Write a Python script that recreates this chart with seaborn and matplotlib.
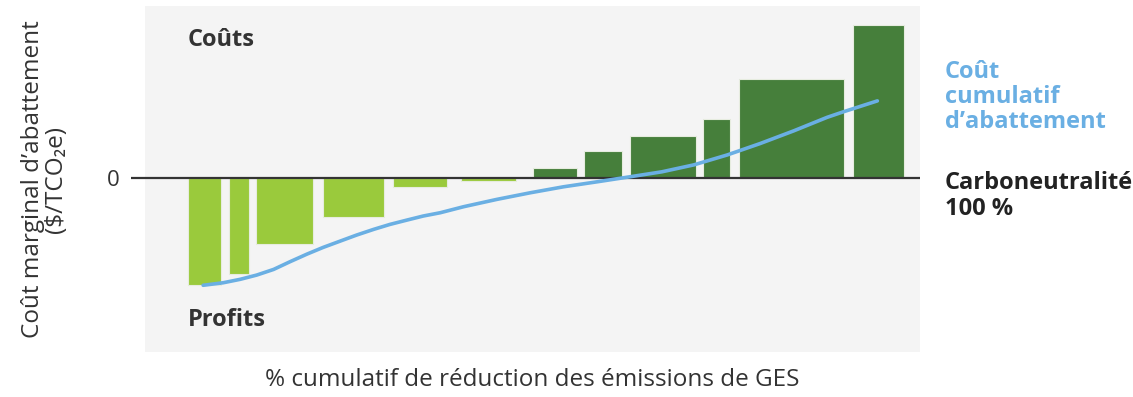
import numpy as np
import pandas as pd
import matplotlib
matplotlib.use("Agg")
import matplotlib.pyplot as plt
import seaborn as sns

# abatement measures: left edge on cumulative % axis, width (potential), marginal cost
bar_left = [5.5, 10.9, 14.3, 23.0, 32.0, 40.8, 50.0, 56.6, 62.6, 72.0, 76.6, 91.4]
bar_width = [4.3, 2.5, 7.4, 7.9, 7.0, 7.1, 5.7, 4.9, 8.5, 3.5, 13.6, 6.6]
bar_cost = [-71, -64, -44, -26, -6, -1.6, 7, 18.4, 28.4, 39.3, 66.4, 102.4]

# cumulative abatement cost curve
curve_x = [7.5, 10.1, 12.3, 14.4, 16.6, 18.7, 20.9, 23.0, 25.2, 27.3, 29.5, 31.6,
           33.8, 35.9, 38.1, 41.1, 45.4, 49.7, 54.0, 58.3, 62.6, 66.7, 70.8,
           75.1, 79.4, 83.7, 88.0, 90.1, 94.5]
curve_y = [-71.3, -69.6, -67.3, -64.5, -60.7, -55.6, -50.5, -46.0, -41.8, -37.8,
           -34.0, -30.7, -27.8, -25.1, -22.9, -18.9, -14.0, -9.6, -5.6, -2.3, 1.1,
           4.4, 9.0, 15.6, 23.3, 31.7, 40.7, 44.4, 51.7]

light_green = "#9aca3c"
dark_green = "#467f3b"
blue = "#6aafe3"
dark = "#333333"

sns.set_theme(style="white")
plt.rcParams["font.family"] = ["Open Sans", "DejaVu Sans"]

fig = plt.figure(figsize=(11.33, 3.97), dpi=100)
ax = fig.add_axes([0.128, 0.1126, 0.684, 0.8723])
ax.set_facecolor("#f4f4f4")

colors = [light_green if c < 0 else dark_green for c in bar_cost]
ax.bar(bar_left, bar_cost, width=bar_width, align="edge", color=colors,
       edgecolor="#e6ecdf", linewidth=0.8, zorder=2)

ax.axhline(0, color=dark, lw=1.6, zorder=3)

df = pd.DataFrame({"x": curve_x, "y": curve_y})
sns.lineplot(data=df, x="x", y="y", ax=ax, color=blue, lw=2.6, zorder=4)

ax.set_xlim(0, 100)
ax.set_ylim(-116, 115)
for s in ax.spines.values():
    s.set_visible(False)
ax.set_xticks([])
ax.set_yticks([0])
ax.set_yticklabels(["0"], fontsize=16, color=dark)
ax.tick_params(axis="y", length=10, width=1.6, color=dark, pad=8, left=True)

ax.set_xlabel("% cumulatif de réduction des émissions de GES", fontsize=17.5,
              color=dark, labelpad=11)
ax.set_ylabel("Coût marginal d’abattement\n($/TCO₂e)", fontsize=17.5,
              color=dark, labelpad=28, linespacing=0.95)

ax.text(5.5, 92, "Coûts", fontsize=17, fontweight="bold", color=dark, va="center")
ax.text(5.5, -94.5, "Profits", fontsize=17, fontweight="bold", color=dark, va="center")

ax.text(1.032, 0.737, "Coût\ncumulatif\nd’abattement", transform=ax.transAxes,
        fontsize=17, fontweight="bold", color=blue, va="center", ha="left",
        linespacing=1.05)
ax.text(1.032, 0.451, "Carboneutralité\n100 %", transform=ax.transAxes,
        fontsize=17, fontweight="bold", color="#222222", va="center", ha="left",
        linespacing=1.1)

fig.savefig("out.png", dpi=100)
